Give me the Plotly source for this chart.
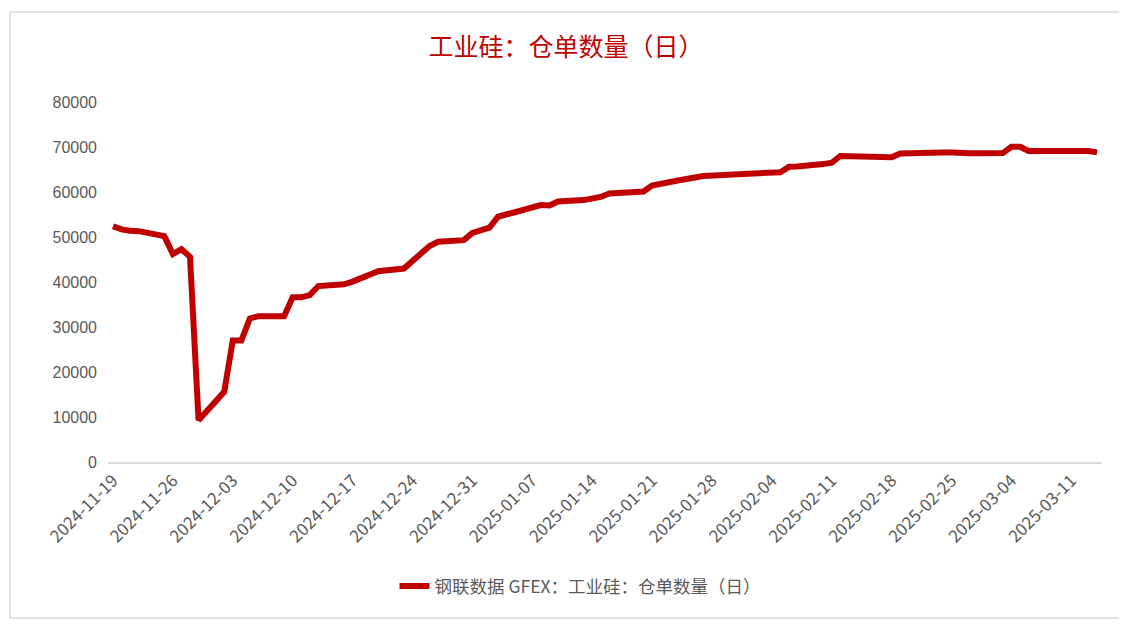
import plotly.graph_objects as go

dates = [
    "2024-11-19", "2024-11-20", "2024-11-21", "2024-11-22", "2024-11-25", "2024-11-26",
    "2024-11-27", "2024-11-28", "2024-11-29", "2024-12-02", "2024-12-03", "2024-12-04",
    "2024-12-05", "2024-12-06", "2024-12-09", "2024-12-10", "2024-12-11", "2024-12-12",
    "2024-12-13", "2024-12-16", "2024-12-17", "2024-12-18", "2024-12-19", "2024-12-20",
    "2024-12-23", "2024-12-24", "2024-12-25", "2024-12-26", "2024-12-27", "2024-12-30",
    "2024-12-31", "2025-01-02", "2025-01-03", "2025-01-06", "2025-01-07", "2025-01-08",
    "2025-01-09", "2025-01-10", "2025-01-13", "2025-01-14", "2025-01-15", "2025-01-16",
    "2025-01-17", "2025-01-20", "2025-01-21", "2025-01-22", "2025-01-23", "2025-01-24",
    "2025-01-27", "2025-02-05", "2025-02-06", "2025-02-07", "2025-02-10", "2025-02-11",
    "2025-02-12", "2025-02-13", "2025-02-14", "2025-02-17", "2025-02-18", "2025-02-19",
    "2025-02-20", "2025-02-21", "2025-02-24", "2025-02-25", "2025-02-26", "2025-02-27",
    "2025-02-28", "2025-03-03", "2025-03-04", "2025-03-05", "2025-03-06", "2025-03-07",
    "2025-03-10", "2025-03-11", "2025-03-12", "2025-03-13", "2025-03-14",
]

receipts = [
    52400, 51700, 51400, 51300, 50200, 46200,
    47300, 45600, 9300, 15600, 27000, 27000,
    31900, 32400, 32400, 36600, 36600, 37100,
    39100, 39500, 40100, 40900, 41750, 42400,
    43000, 44800, 46450, 48000, 48950, 49300,
    50900, 52100, 54500, 56000, 56500, 57100,
    57000, 57900, 58200, 58550, 58900, 59650,
    59700, 60100, 61450, 61900, 62350, 62550,
    63550, 64400, 65600, 65650, 66200, 66500,
    68000, 68000, 68000, 67800, 67700, 68550,
    68650, 68700, 68800, 68800, 68600, 68600,
    68600, 68650, 70050, 70050, 69100, 69100,
    69300, 69400, 69250, 69100, 68800,
]

tick_dates = [
    "2024-11-19", "2024-11-26", "2024-12-03", "2024-12-10", "2024-12-17", "2024-12-24",
    "2024-12-31", "2025-01-07", "2025-01-14", "2025-01-21", "2025-01-28", "2025-02-04",
    "2025-02-11", "2025-02-18", "2025-02-25", "2025-03-04", "2025-03-11",
]
y_ticks = [0, 10000, 20000, 30000, 40000, 50000, 60000, 70000, 80000]

title_text = "工业硅：仓单数量（日）"
series_name = "钢联数据 GFEX：工业硅：仓单数量（日）"

RED = "#C00000"
GRAY_TXT = "#595959"

fig = go.Figure()
fig.add_trace(go.Scatter(
    x=dates, y=receipts, mode="lines", name=series_name,
    line=dict(color=RED, width=6),
))

# page body has an 8px margin; work in page pixels and shift by OFF
OFF = 8
W, H = 1127 - OFF, 627 - OFF
L, T = 108 - OFF, 102 - OFF
B = H - (462 - OFF)
R = W - (1102 - OFF)
pw, ph = W - L - R, H - T - B

def px_x(px):
    return (px - OFF - L) / pw

def px_y(py):
    return (H - B - (py - OFF)) / ph

fig.update_layout(
    width=W, height=H,
    margin=dict(l=L, r=R, t=T, b=B),
    paper_bgcolor="white", plot_bgcolor="white",
    title=dict(text=title_text, x=(566 - OFF) / W, xanchor="center",
               y=1 - (47 - OFF) / H, yanchor="middle",
               font=dict(family="Noto Sans CJK SC", size=25, color=RED)),
    showlegend=True,
    legend=dict(orientation="h", x=px_x(580), xanchor="center", y=px_y(586), yanchor="middle",
                font=dict(family="Noto Sans CJK SC", size=17.5, color=GRAY_TXT),
                bgcolor="rgba(0,0,0,0)"),
    xaxis=dict(
        type="date",
        range=["2024-11-18 10:00", "2025-03-14 14:00"],
        tickvals=tick_dates, ticktext=tick_dates,
        tickangle=-45,
        tickfont=dict(family="Noto Sans CJK SC", size=17, color=GRAY_TXT),
        showgrid=False, zeroline=False,
        showline=True, linecolor="#D9D9D9", linewidth=2,
        ticks="",
    ),
    yaxis=dict(
        range=[0, 80000],
        tickvals=y_ticks, ticktext=[str(v) for v in y_ticks],
        tickfont=dict(family="Liberation Sans", size=16, color=GRAY_TXT),
        showgrid=False, zeroline=False, showline=False, ticks="",
        ticklabelstandoff=10,
    ),
    shapes=[dict(type="rect", xref="paper", yref="paper",
                 x0=px_x(10), x1=px_x(1120), y0=px_y(618), y1=px_y(12),
                 line=dict(color="#D9D9D9", width=1.5), fillcolor="rgba(0,0,0,0)", layer="below")],
)

fig.write_html("out.html")
